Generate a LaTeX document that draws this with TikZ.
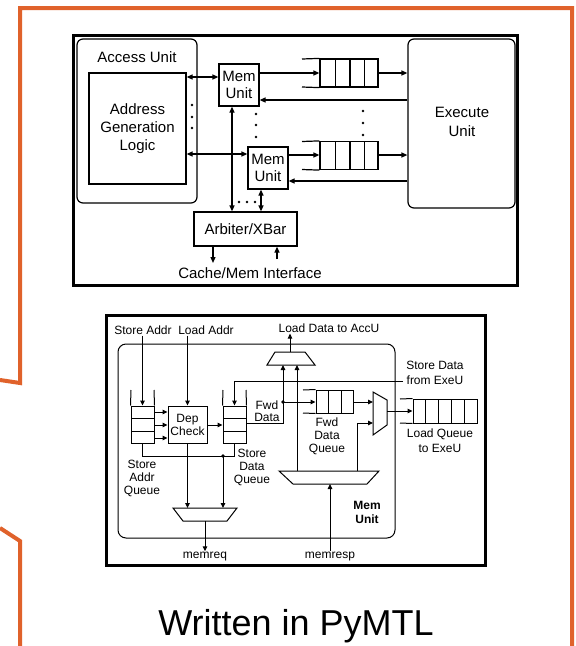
\documentclass[tikz,border=0pt]{standalone}
\usepackage{fontspec}
\setmainfont{Liberation Sans}
\usetikzlibrary{arrows.meta}
\definecolor{framec}{HTML}{E0622B}
\newcommand\topf{\fontsize{15}{18}\selectfont}
\newcommand\botf{\fontsize{12}{13}\selectfont}
\begin{document}
\begin{tikzpicture}[x=1pt,y=-1pt,
  bx/.style={draw, line width=1.2pt, inner sep=0pt},
  rbx/.style={draw, line width=1.2pt, inner sep=0pt, rounded corners=6pt},
  tarr/.style={-{Triangle[length=6pt,width=5pt]}, line width=1.2pt},
  tbarr/.style={{Triangle[length=6pt,width=5pt]}-{Triangle[length=6pt,width=5pt]}, line width=1.2pt},
  tl/.style={line width=1.2pt},
  sbx/.style={draw, line width=1pt, inner sep=0pt},
  sarr/.style={-{Triangle[length=5pt,width=4.5pt]}, line width=1pt},
  sl/.style={line width=1pt},
  ttxt/.style={font=\topf, align=center, inner sep=1pt},
  btxt/.style={font=\botf, align=center, inner sep=1pt},
  dotf/.style={fill=black}
]
\useasboundingbox (0,0) rectangle (576,646);

% orange frame
\draw[framec, line width=4pt, line join=miter] (0,380) -- (20,383) -- (20,8) -- (572,8) -- (572,650);
\draw[framec, line width=4pt, line join=miter] (0,528) -- (20,541) -- (20,650);

%================ top diagram
\draw[line width=3pt] (73,35) rectangle (517,285);
\node[rbx, minimum width=120pt, minimum height=164pt] (acc) at (137,121) {};
\node[ttxt] (acct) at (137,57) {Access Unit};
\node[bx, minimum width=97pt, minimum height=111pt] (agl) at (137.5,128.5) {};
\node[ttxt, font=\fontsize{15}{18}\selectfont] (aglt) at (agl.center) {Address\\Generation\\Logic};

\node[bx, minimum width=40pt, minimum height=42pt, font=\fontsize{15}{17}\selectfont, align=center] (mu1) at (239,85) {Mem\\Unit};
\node[bx, minimum width=40pt, minimum height=42pt, font=\fontsize{15}{17}\selectfont, align=center] (mu2) at (268,168) {Mem\\Unit};

\node[rbx, minimum width=107pt, minimum height=169pt] (exe) at (461.5,123.5) {};
\node[ttxt, font=\fontsize{15}{19}\selectfont] (exet) at (462,122) {Execute\\Unit};

% queues
\node[bx, minimum width=58pt, minimum height=28pt] (q1) at (349,73) {};
\foreach \x in {335.5,350,364.5} \draw[tl] (\x,59) -- (\x,87);
\draw[tl] (302,59) -- (q1.north west);
\draw[tl] (302,87) -- (q1.south west);
\node[bx, minimum width=58pt, minimum height=28pt] (q2) at (349,155.5) {};
\foreach \x in {335.5,350,364.5} \draw[tl] (\x,141.5) -- (\x,169.5);
\draw[tl] (302,141.5) -- (q2.north west);
\draw[tl] (302,169.5) -- (q2.south west);

\node[bx, minimum width=103pt, minimum height=34pt, font=\topf] (arb) at (245.5,229) {Arbiter/XBar};
\node[ttxt] (cmi) at (250,273) {Cache/Mem Interface};

% connectors
\draw[tbarr] (agl.east |- 0,77) -- (mu1.west |- 0,77);
\draw[tarr] (mu1.east |- 0,73) -- (q1.west |- 0,73);
\draw[tarr] (q1.east |- 0,73) -- (exe.west |- 0,73);
\draw[tarr] (exe.west |- 0,100) -- (mu1.east |- 0,100);

\draw[tbarr] (agl.east |- 0,154) -- (mu2.west |- 0,154);
\draw[tarr] (mu2.east |- 0,155) -- (q2.west |- 0,155);
\draw[tarr] (q2.east |- 0,155) -- (exe.west |- 0,155);
\draw[tarr] (exe.west |- 0,181) -- (mu2.east |- 0,181);

\draw[tbarr] (mu1.south -| 232,0) -- (arb.north -| 232,0);
\draw[tbarr] (mu2.south -| 261,0) -- (arb.north -| 261,0);

\coordinate (cmo) at (213,263);
\coordinate (cmi2) at (277,259);
\draw[tarr] (arb.south -| cmo) -- (cmo);
\draw[tarr] (cmi2) -- (arb.south -| cmi2);

% dots
\foreach \y in {105,117,128} \fill (192,\y) circle (1.4);
\foreach \y in {114,125,137} \fill (256,\y) circle (1.4);
\foreach \y in {111,123,135} \fill (363,\y) circle (1.4);
\foreach \x in {239,247,255} \fill (\x,202) circle (1.4);

%================ bottom diagram
\draw[line width=3pt] (106,315) rectangle (485,565);
\node[draw, line width=1pt, rounded corners=8pt, minimum width=277pt, minimum height=194pt, inner sep=0pt] (mem) at (256.5,441) {};

\node[btxt] (sa) at (143,330) {Store Addr};
\node[btxt] (la) at (206,330) {Load Addr};
\node[btxt] (ldt) at (329,328) {Load Data to AccU};

% store addr queue
\node[sbx, minimum width=23pt, minimum height=37pt] (saq) at (142.5,424.5) {};
\foreach \y in {418,431} \draw[sl] (131,\y) -- (154,\y);
\draw[sl] (saq.north west) -- (131,390);
\draw[sl] (saq.north east) -- (154,390);

\node[sbx, minimum width=39pt, minimum height=37pt, font=\botf, align=center] (dep) at (187.5,424.5) {Dep\\Check};

% store data queue
\node[sbx, minimum width=23pt, minimum height=37pt] (sdq) at (234.5,424.5) {};
\foreach \y in {418,431} \draw[sl] (223,\y) -- (246,\y);
\draw[sl] (sdq.north west) -- (223,390);
\draw[sl] (sdq.north east) -- (246,390);

\draw[sarr] (sa.south -| saq.north) -- (saq.north);
\draw[sarr] (la.south -| dep.north) -- (dep.north);
\foreach \y in {412,425,438} \draw[sarr] (saq.east |- 0,\y) -- (dep.west |- 0,\y);
\draw[sarr] (dep.east |- 0,425) -- (sdq.west |- 0,425);

\node[btxt, font=\fontsize{12}{15}\selectfont] (sdfe) at (435,373) {Store Data\\from ExeU};
\coordinate (sdin) at (403,381);
\draw[sarr] (sdin) -| (sdq.north);

% load data mux
\draw[sl, line join=miter] (275,352) -- (305,352) -- (315,365) -- (267,365) -- cycle;
\coordinate (ldin1) at (283,365);
\coordinate (ldin2) at (297,365);
\coordinate (ldout) at (290,352);
\draw[sarr] (ldout) -- (ldout |- ldt.south);

\draw[sarr] (sdq.east |- 0,423) -| (ldin1);
\coordinate (fj) at (283,402);
\fill (fj) circle (1.8);
\node[btxt, font=\fontsize{12}{12}\selectfont] (fdt) at (267,411) {Fwd\\Data};

% fwd data queue
\node[sbx, minimum width=37pt, minimum height=23pt] (fwdq) at (334.5,401.5) {};
\foreach \x in {328,341} \draw[sl] (\x,390) -- (\x,413);
\draw[sl] (303,390) -- (fwdq.north west);
\draw[sl] (303,413) -- (fwdq.south west);
\draw[sarr] (fj) -- (fwdq.west |- fj);
\node[btxt] (fdqt) at (327,436) {Fwd\\Data\\Queue};

% memresp mux
\draw[sl, line join=miter] (279,471) -- (379,471) -- (367,484) -- (293,484) -- cycle;
\coordinate (mrout1) at (297,471);
\coordinate (mrout2) at (357,471);
\coordinate (mrin) at (330,484);
\draw[sarr] (mrout1) -- (ldin2);

% output mux
\draw[sl, line join=miter] (373,392) -- (387,400) -- (387,425) -- (373,435) -- cycle;
\coordinate (omin1) at (373,402);
\coordinate (omin2) at (373,423);
\coordinate (omout) at (387,411);
\draw[sarr] (fwdq.east |- omin1) -- (omin1);
\draw[sarr] (mrout2) |- (omin2);

% load queue
\node[sbx, minimum width=64pt, minimum height=24pt] (lq) at (445,411) {};
\foreach \x in {425.8,438.6,451.4,464.2} \draw[sl] (\x,399) -- (\x,423);
\draw[sl] (400,399) -- (lq.north west);
\draw[sl] (400,423) -- (lq.south west);
\draw[sarr] (omout) -- (lq.west |- omout);
\node[btxt, font=\fontsize{12}{15}\selectfont] (lqt) at (440,440.5) {Load Queue\\to ExeU};

% labels of queues
\node[btxt] (saqt) at (142,478) {Store\\Addr\\Queue};
\node[btxt] (sdqt) at (252,467) {Store\\Data\\Queue};

% memreq mux
\draw[sl, line join=miter] (173,508) -- (237,508) -- (227,521) -- (183,521) -- cycle;
\coordinate (mqin2) at (223,508);
\coordinate (mqout) at (205,521);
\draw[sarr] (dep.south) -- (dep.south |- mqin2);
\draw[sl] (saq.south) -- ++(0,13) -| (sdq.south);
\coordinate (sj) at (223,456);
\fill (sj) circle (1.8);
\draw[sarr] (sj) -- (mqin2);

\node[btxt] (mreq) at (205,557) {memreq};
\node[btxt] (mresp) at (330,557) {memresp};
\draw[sarr] (mqout) -- (mqout |- mreq.north);
\draw[sarr] (mresp.north -| mrin) -- (mrin);

\node[btxt, font=\fontsize{12}{14}\selectfont\bfseries] (mut) at (367,512) {Mem\\Unit};

% caption
\node[font=\fontsize{36}{40}\selectfont, anchor=base, inner sep=0pt] (cap) at (296,635) {Written in PyMTL};
\end{tikzpicture}
\end{document}
